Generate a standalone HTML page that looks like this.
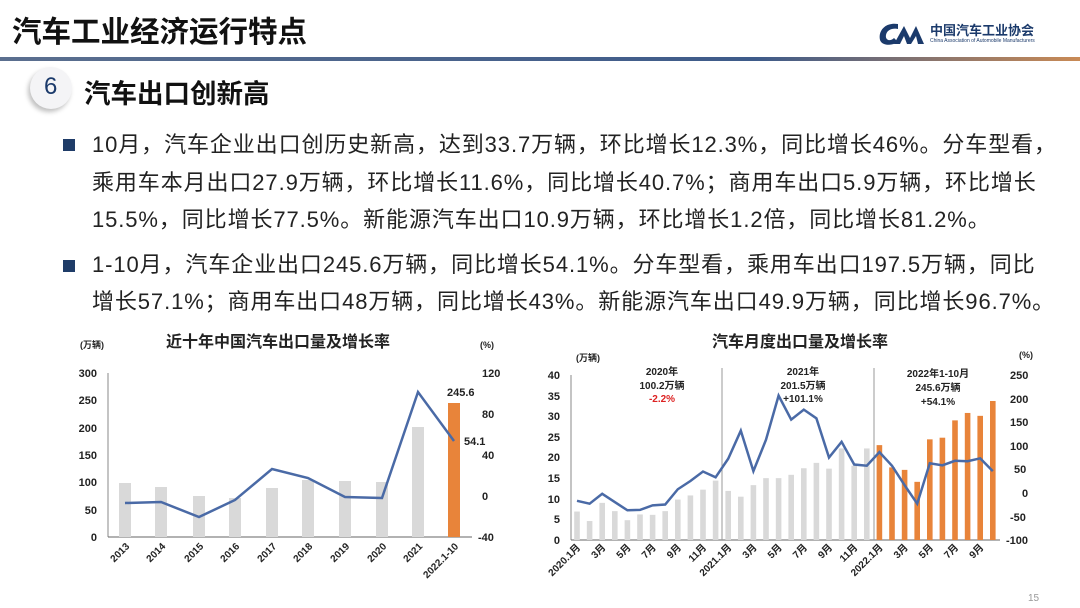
<!DOCTYPE html>
<html><head><meta charset="utf-8"><style>
body{margin:0;width:1080px;height:608px;background:#fff;overflow:hidden;position:relative;font-family:"Liberation Sans","Noto Sans CJK SC",sans-serif;}
.t{position:absolute;white-space:nowrap;}
</style></head><body>
<div class="t" style="left:12px;top:9px;font-size:29.5px;font-weight:bold;color:#111;">汽车工业经济运行特点</div>
<div class="t" style="left:930px;top:20px;font-size:13px;font-weight:bold;color:#1b3a6b;">中国汽车工业协会</div>
<div class="t" style="left:930px;top:38px;font-size:5px;color:#1b3a6b;">China Association of Automobile Manufacturers</div>
<svg style="position:absolute;left:876px;top:20px" width="52" height="28"><path d="M22 4 C8 2 2 12 4 20 C6 26 16 26 22 22 L18 18 C14 22 9 20 10 15 C11 9 18 8 22 9Z" fill="#1b3a6b"/><path d="M18 24 L28 6 L34 18 L40 6 L48 24 L42 24 L40 16 L35 24 L31 24 L28 16 L24 24Z" fill="#1b3a6b"/></svg>
<div style="position:absolute;left:0;top:57px;width:1080px;height:4px;background:linear-gradient(90deg,#5b6f8f 0%,#3e5b8a 70%,#c98a55 100%);"></div>
<div style="position:absolute;left:30px;top:67px;width:42px;height:42px;border-radius:50%;background:#f4f4f6;box-shadow:-2px 3px 5px rgba(0,0,0,.25);"></div>
<div class="t" style="left:44px;top:73px;font-size:24px;color:#1b3a6b;">6</div>
<div class="t" style="left:84px;top:72px;font-size:26.5px;font-weight:bold;color:#111;">汽车出口创新高</div>
<div style="position:absolute;left:63px;top:139px;width:12px;height:12px;background:#1f3c68;"></div>
<div style="position:absolute;left:63px;top:260px;width:12px;height:12px;background:#1f3c68;"></div>
<div class="t" style="left:92px;top:126px;font-size:22px;letter-spacing:0.9px;line-height:37.5px;color:#222;">10月，汽车企业出口创历史新高，达到33.7万辆，环比增长12.3%，同比增长46%。分车型看，<br>乘用车本月出口27.9万辆，环比增长11.6%，同比增长40.7%；商用车出口5.9万辆，环比增长<br>15.5%，同比增长77.5%。新能源汽车出口10.9万辆，环比增长1.2倍，同比增长81.2%。</div>
<div class="t" style="left:92px;top:246px;font-size:22px;letter-spacing:0.9px;line-height:37px;color:#222;">1-10月，汽车企业出口245.6万辆，同比增长54.1%。分车型看，乘用车出口197.5万辆，同比<br>增长57.1%；商用车出口48万辆，同比增长43%。新能源汽车出口49.9万辆，同比增长96.7%。</div>
<svg style="position:absolute;left:0;top:0" width="1080" height="608" font-family="Liberation Sans,Noto Sans CJK SC,sans-serif">
<g font-weight="bold" font-size="11" fill="#222">
<text x="278" y="347" font-size="16" text-anchor="middle">近十年中国汽车出口量及增长率</text>
<text x="80" y="348" font-size="9">(万辆)</text>
<text x="480" y="348" font-size="9">(%)</text>
<g text-anchor="end"><text x="97" y="377">300</text><text x="97" y="404">250</text><text x="97" y="432">200</text><text x="97" y="459">150</text><text x="97" y="486">100</text><text x="97" y="514">50</text><text x="97" y="541">0</text></g>
<text x="482" y="377">120</text><text x="482" y="418">80</text><text x="482" y="459">40</text><text x="482" y="500">0</text><text x="478" y="541">-40</text>
</g>
<line x1="108" y1="373" x2="108" y2="537" stroke="#888"/><line x1="108" y1="537" x2="472" y2="537" stroke="#666"/>
<g fill="#d9d9d9">
<rect x="119" y="483" width="12" height="54"/><rect x="155" y="487" width="12" height="50"/><rect x="193" y="496" width="12" height="41"/><rect x="229" y="498" width="12" height="39"/><rect x="266" y="488" width="12" height="49"/><rect x="302" y="480" width="12" height="57"/><rect x="339" y="481" width="12" height="56"/><rect x="376" y="482" width="12" height="55"/><rect x="412" y="427" width="12" height="110"/></g>
<rect x="448" y="403" width="12" height="134" fill="#e8843a"/>
<polyline fill="none" stroke="#4a6aa6" stroke-width="2.5" points="125,503 161,502 199,517 235,500 272,469 308,478 345,497 382,498 418,392 454,441"/>
<text x="447" y="396" font-size="11" font-weight="bold" fill="#222">245.6</text>
<text x="464" y="445" font-size="11" font-weight="bold" fill="#222">54.1</text>
<g font-size="10" font-weight="bold" fill="#222" text-anchor="end">
<text transform="translate(130,547) rotate(-45)">2013</text><text transform="translate(166,547) rotate(-45)">2014</text><text transform="translate(204,547) rotate(-45)">2015</text><text transform="translate(240,547) rotate(-45)">2016</text><text transform="translate(277,547) rotate(-45)">2017</text><text transform="translate(313,547) rotate(-45)">2018</text><text transform="translate(350,547) rotate(-45)">2019</text><text transform="translate(387,547) rotate(-45)">2020</text><text transform="translate(423,547) rotate(-45)">2021</text><text transform="translate(459,547) rotate(-45)">2022.1-10</text></g>

<g font-weight="bold" font-size="11" fill="#222">
<text x="800" y="347" font-size="16" text-anchor="middle">汽车月度出口量及增长率</text>
<text x="576" y="361" font-size="9">(万辆)</text>
<text x="1019" y="358" font-size="9">(%)</text>
<g text-anchor="end"><text x="560" y="379">40</text><text x="560" y="400">35</text><text x="560" y="420">30</text><text x="560" y="441">25</text><text x="560" y="461">20</text><text x="560" y="482">15</text><text x="560" y="503">10</text><text x="560" y="523">5</text><text x="560" y="544">0</text></g>
<g><text x="1010" y="379">250</text><text x="1010" y="403">200</text><text x="1010" y="426">150</text><text x="1010" y="450">100</text><text x="1014" y="473">50</text><text x="1022" y="497">0</text><text x="1010" y="521">-50</text><text x="1006" y="544">-100</text></g>
</g>
<line x1="571" y1="375" x2="571" y2="540" stroke="#888"/><line x1="571" y1="540" x2="1000" y2="540" stroke="#666"/>
<line x1="722" y1="368" x2="722" y2="540" stroke="#999"/><line x1="874" y1="368" x2="874" y2="540" stroke="#999"/>
<g id="bars"></g>
<polyline id="ln" fill="none" stroke="#4a6aa6" stroke-width="2.5"/>
<g font-size="10" font-weight="bold" fill="#222" text-anchor="middle">
<text x="662" y="375">2020年</text><text x="662" y="389">100.2万辆</text><text x="662" y="402" fill="#d22">-2.2%</text>
<text x="803" y="375">2021年</text><text x="803" y="389">201.5万辆</text><text x="803" y="402">+101.1%</text>
<text x="938" y="377">2022年1-10月</text><text x="938" y="391">245.6万辆</text><text x="938" y="405">+54.1%</text></g>
<g id="xl" font-size="10" font-weight="bold" fill="#222" text-anchor="end"></g>
<text x="1028" y="601" font-size="10" fill="#999">15</text>
</svg>
<script>
var b=[6.9,4.6,9,7,4.8,6.2,6.1,7,9.8,10.8,12.2,14.4,11.9,10.5,13.3,15,15,15.8,17.4,18.7,17.3,22.2,18,22.2,23,17.6,17,14.1,24.4,24.8,29,30.8,30.1,33.7];
var l=[9.5,8.8,11.2,9.2,7.2,7.3,8.4,8.6,12.3,14.3,16.6,15.2,19.7,26.5,16.7,24.3,35,29.2,31.6,29.5,20,23.8,18.3,18,21.3,18,13.3,8.8,18.6,18.1,19.2,19.1,19.8,16.7];
var ns="http://www.w3.org/2000/svg",g=document.getElementById('bars'),pts=[],xl=document.getElementById('xl');
var labs={0:"2020.1月",2:"3月",4:"5月",6:"7月",8:"9月",10:"11月",12:"2021.1月",14:"3月",16:"5月",18:"7月",20:"9月",22:"11月",24:"2022.1月",26:"3月",28:"5月",30:"7月",32:"9月"};
for(var i=0;i<34;i++){var x=577+i*12.6,r=document.createElementNS(ns,'rect');var h=b[i]*4.125;
r.setAttribute('x',x-2.8);r.setAttribute('y',540-h);r.setAttribute('width',5.6);r.setAttribute('height',h);r.setAttribute('fill',i>=24?'#e8843a':'#d9d9d9');g.appendChild(r);
pts.push(x+','+(540-l[i]*4.125));
if(labs[i]){var t=document.createElementNS(ns,'text');t.setAttribute('transform','translate('+(x+4)+',548) rotate(-45)');t.textContent=labs[i];xl.appendChild(t);}}
document.getElementById('ln').setAttribute('points',pts.join(' '));
</script>
</body></html>
